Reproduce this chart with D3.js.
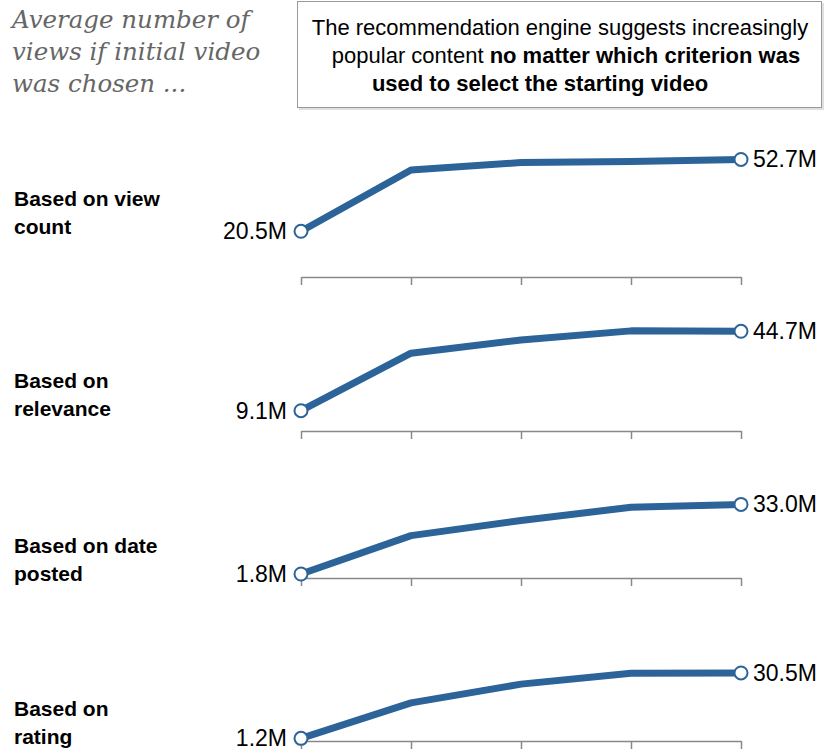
<!DOCTYPE html>
<html>
<head>
<meta charset="utf-8">
<title>recommendation engine views</title>
<script src="https://cdnjs.cloudflare.com/ajax/libs/d3/7.8.5/d3.min.js"></script>
<style>
  html, body { margin: 0; padding: 0; background: #fff; }
  svg { display: block; }
</style>
</head>
<body>
<div id="chart"></div>
<script>
// data, in millions of views, steps 0..4 of the recommendation chain
const steps = [0, 1, 2, 3, 4];
const categories = [
  ["Based on view", "count"],
  ["Based on", "relevance"],
  ["Based on date", "posted"],
  ["Based on", "rating"]
];
const viewCount = [20.5, 48.0, 51.3, 51.8, 52.7];
const relevance = [9.1, 34.9, 40.8, 44.9, 44.7];
const datePosted = [1.8, 19.0, 25.8, 31.7, 33.0];
const rating = [1.2, 17.1, 25.5, 30.4, 30.5];
const series = [viewCount, relevance, datePosted, rating];

const titleLines = ["Average number of", "views if initial video", "was chosen ..."];

const W = 830, H = 750;
const blue = "#2c6399";
const sans = "'Liberation Sans', Arial, sans-serif";

const svg = d3.select("#chart").append("svg")
  .attr("width", W)
  .attr("height", H);

// heading at the top left
svg.append("g").selectAll("text")
  .data(titleLines)
  .join("text")
    .attr("x", 12)
    .attr("y", (d, i) => 28 + i * 32)
    .attr("font-family", "Georgia, 'DejaVu Serif', serif")
    .attr("font-style", "italic")
    .attr("font-size", 24.5)
    .attr("fill", "#666")
    .text(d => d);

// callout box
const box = svg.append("g");
box.append("rect")
  .attr("x", 299).attr("y", 3)
  .attr("width", 525).attr("height", 107)
  .attr("fill", "#ccc").attr("opacity", 0.6);
box.append("rect")
  .attr("x", 297.5).attr("y", 1.5)
  .attr("width", 524).attr("height", 106)
  .attr("fill", "#fff").attr("stroke", "#999").attr("stroke-width", 1);

const boxLines = [
  { cx: 560, y: 35, parts: [["The recommendation engine suggests increasingly", 400]] },
  { cx: 566, y: 63, parts: [["popular content ", 400], ["no matter which criterion was", 700]] },
  { cx: 540, y: 91, parts: [["used to select the starting video", 700]] }
];
boxLines.forEach(l => {
  const t = box.append("text")
    .attr("x", l.cx).attr("y", l.y)
    .attr("text-anchor", "middle")
    .attr("font-family", sans)
    .attr("font-size", 22)
    .attr("fill", "#000");
  l.parts.forEach(p => t.append("tspan").attr("font-weight", p[1]).text(p[0]));
});

// shared scales
const x = d3.scaleLinear().domain([0, 4]).range([301, 741]);
const pxPerM = 2.23;
const baselines = [277, 431, 578, 741];
const labelOffsets = [-71, -43, -25, -25];

series.forEach((vals, k) => {
  const base = baselines[k];
  const y = d3.scaleLinear().domain([0, 60]).range([base, base - 60 * pxPerM]);
  const g = svg.append("g");

  // axis with downward ticks, no labels
  const ax = g.append("g")
    .attr("transform", `translate(0,${base})`)
    .call(d3.axisBottom(x).tickValues(steps).tickSizeInner(8).tickSizeOuter(0).tickFormat(""));
  ax.select(".domain").attr("stroke", "#888").attr("stroke-width", 1.5);
  ax.selectAll(".tick line").attr("stroke", "#888").attr("stroke-width", 1.5);

  const pts = steps.map((s, i) => [s, vals[i]]);
  g.append("path")
    .datum(pts)
    .attr("fill", "none")
    .attr("stroke", blue)
    .attr("stroke-width", 7)
    .attr("stroke-linejoin", "round")
    .attr("d", d3.line().x(d => x(d[0])).y(d => y(d[1])));

  const ends = [pts[0], pts[pts.length - 1]];
  g.selectAll("circle")
    .data(ends)
    .join("circle")
      .attr("cx", d => x(d[0]))
      .attr("cy", d => y(d[1]))
      .attr("r", 6.5)
      .attr("fill", "#fff")
      .attr("stroke", blue)
      .attr("stroke-width", 2);

  g.selectAll(".val")
    .data(ends)
    .join("text")
      .attr("class", "val")
      .attr("x", (d, i) => i === 0 ? x(d[0]) - 14 : x(d[0]) + 12)
      .attr("y", d => y(d[1]) + 8)
      .attr("text-anchor", (d, i) => i === 0 ? "end" : "start")
      .attr("font-family", sans)
      .attr("font-size", 23)
      .attr("fill", "#000")
      .text(d => d[1].toFixed(1) + "M");

  // category label, two lines
  g.append("g").selectAll("text")
    .data(categories[k])
    .join("text")
      .attr("x", 14)
      .attr("y", (d, i) => y(0) + labelOffsets[k] + i * 28)
      .attr("font-family", sans)
      .attr("font-weight", 700)
      .attr("font-size", 21)
      .attr("fill", "#000")
      .text(d => d);
});
</script>
</body>
</html>
